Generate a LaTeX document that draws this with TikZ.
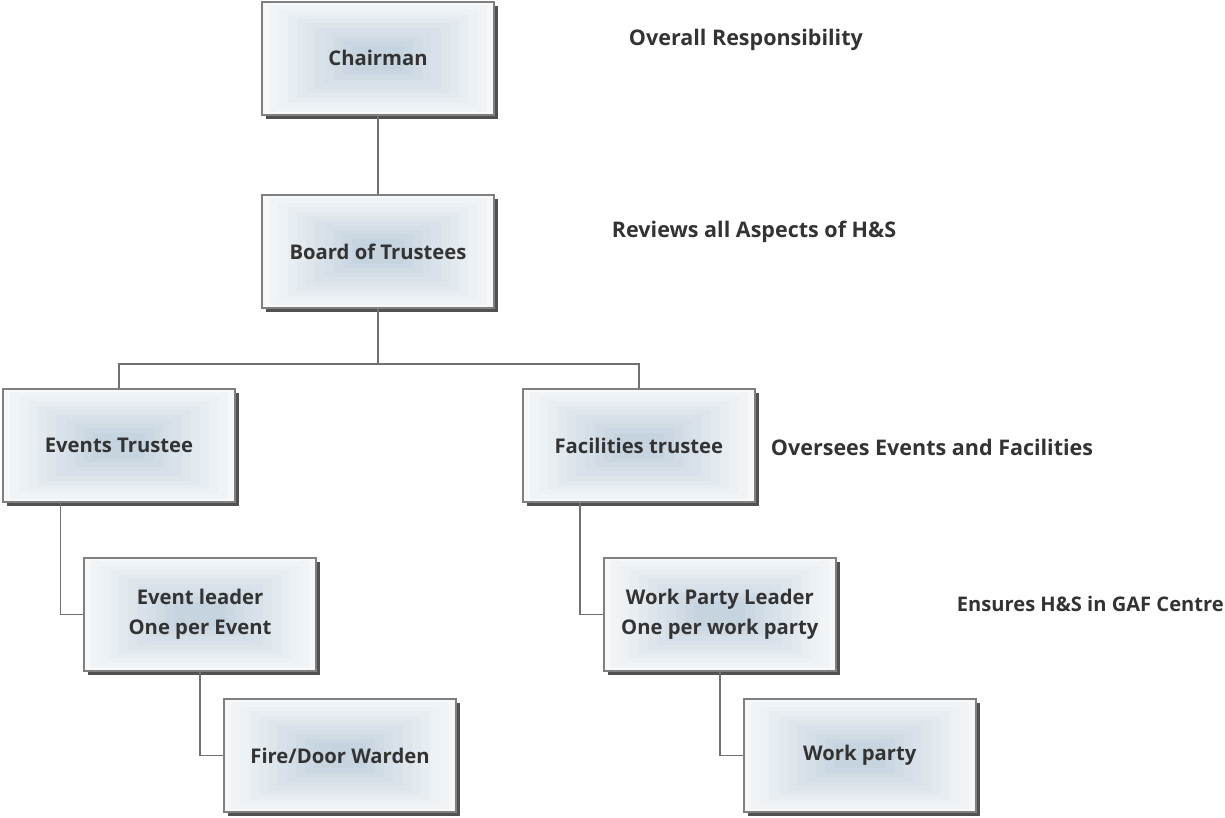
\documentclass[tikz,border=0pt]{standalone}
\usepackage{fontspec}
\setmainfont{Open Sans}
\usetikzlibrary{positioning,shadows,calc}

\definecolor{boxcore}{HTML}{C6D4DF}
\definecolor{boxedge}{HTML}{F6F8FA}
\definecolor{textdark}{HTML}{333333}
\definecolor{linegray}{HTML}{707070}

\begin{document}
\begin{tikzpicture}[
	% Default gap between the role boxes.
	node distance=1.95cm and 7.15cm
	]
	% Styles for boxes, side notes and links.
	\tikzset{
		role/.style={draw=black!50, line width=1.3pt, rectangle, minimum width=5.8cm, minimum height=2.83cm, align=center, text=textdark,
			font=\fontsize{14.4}{21}\selectfont\bfseries, fill=boxedge,
			drop shadow={shadow xshift=0.1cm, shadow yshift=-0.1cm, fill=black!80, opacity=0.85},
			path picture={
				\foreach \k in {0,...,9} {
					\pgfmathsetmacro\f{0.03+\k*0.04}
					\pgfmathtruncatemacro\c{\k*10+10}
					\fill[boxcore!\c!boxedge] ($(path picture bounding box.south west)!\f!(path picture bounding box.north east)$) rectangle ($(path picture bounding box.north east)!\f!(path picture bounding box.south west)$);
				}
			}},
		note/.style={anchor=west, text=textdark, font=\fontsize{15.3}{20}\selectfont\bfseries},
		link/.style={draw=linegray, line width=1.3pt}
	}
	\useasboundingbox (0,0) rectangle (30.625,-20.45);
	
	% === NODES ===
	
	\node[role] (chairman) at (9.45,-1.46) {Chairman};
	\node[role, below=of chairman] (board) {Board of Trustees};
	\coordinate[below=1.375cm of board] (split);
	\node[role, below=1.975cm of board, xshift=-6.475cm] (events) {Events Trustee};
	\node[role, right=of events] (facilities) {Facilities trustee};
	\node[role, below=1.35cm of events, xshift=2.025cm] (eventlead) {Event leader\\One per Event};
	\node[role, below=1.35cm of facilities, xshift=2.025cm] (worklead) {Work Party Leader\\One per work party};
	\node[role, below=0.65cm of eventlead, xshift=3.5cm] (warden) {Fire/Door Warden};
	\node[role, below=0.65cm of worklead, xshift=3.5cm] (workparty) {Work party};
	
	% side notes
	\node[note] (overall) at (15.6,-1.0) {Overall Responsibility};
	\node[note] (reviews) at (15.175,-5.8) {Reviews all Aspects of H\&S};
	\node[note] (oversees) at (19.15,-11.175) {Oversees Events and Facilities};
	\node[note, font=\fontsize{14.3}{20}\selectfont\bfseries] (ensures) at (23.8,-15.1) {Ensures H\&S in GAF Centre};
	
	% === CONNECTIONS ===
	
	\draw[link] (chairman) -- (board);
	\draw[link] (board.south) -- (split);
	\draw[link] (split) -| (events.north);
	\draw[link] (split) -| (facilities.north);
	\draw[link] ($(events.south west)!0.25!(events.south east)$) |- (eventlead.west);
	\draw[link] ($(facilities.south west)!0.25!(facilities.south east)$) |- (worklead.west);
	\draw[link] (eventlead.south) |- (warden.west);
	\draw[link] (worklead.south) |- (workparty.west);
\end{tikzpicture}
\end{document}
